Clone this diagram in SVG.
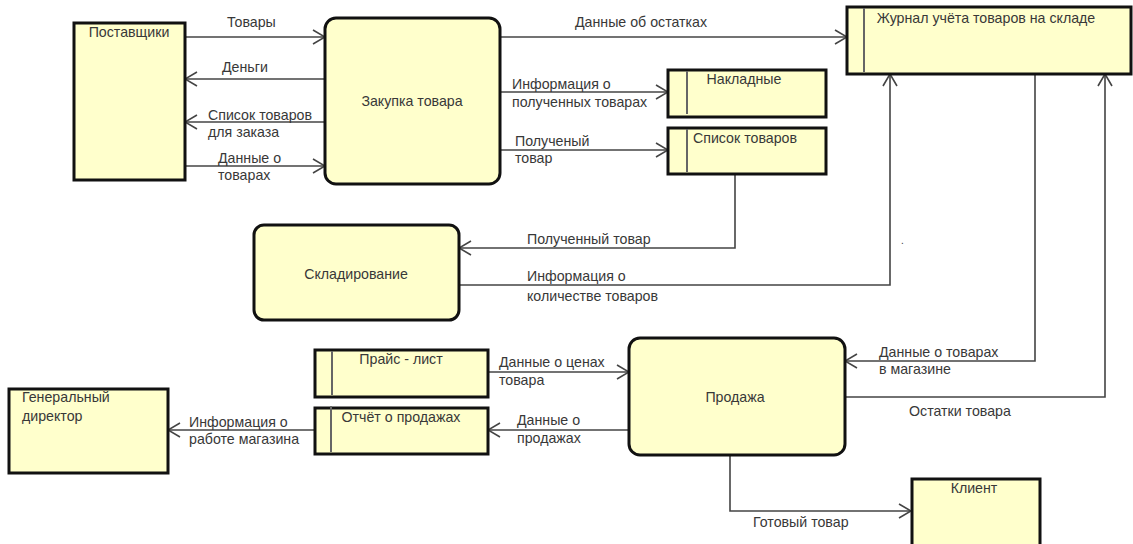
<svg xmlns="http://www.w3.org/2000/svg" width="1133" height="544" viewBox="0 0 1133 544">
<defs>
<style>
.box{fill:#ffffcc;stroke:#111;stroke-width:3}
.inner{stroke:#666;stroke-width:2;fill:none}
.ln{stroke:#444;stroke-width:1.6;fill:none}
.t{font-family:"Liberation Sans",Arial,sans-serif;font-size:14.2px;fill:#383838}
.c{text-anchor:middle}
</style>
<marker id="arr" viewBox="0 0 14 16" refX="13" refY="8" markerWidth="14" markerHeight="16" markerUnits="userSpaceOnUse" orient="auto">
<path d="M1,1 L13,8 L1,15" fill="none" stroke="#444" stroke-width="1.6"/>
</marker>
</defs>
<rect width="1133" height="544" fill="#fff"/>

<g id="connectors">
<line class="ln" x1="185" y1="37" x2="325" y2="37" marker-end="url(#arr)"/>
<line class="ln" x1="325" y1="79" x2="185" y2="79" marker-end="url(#arr)"/>
<line class="ln" x1="325" y1="122" x2="185" y2="122" marker-end="url(#arr)"/>
<line class="ln" x1="185" y1="166" x2="325" y2="166" marker-end="url(#arr)"/>
<line class="ln" x1="500" y1="37" x2="847" y2="37" marker-end="url(#arr)"/>
<line class="ln" x1="500" y1="92" x2="668" y2="92" marker-end="url(#arr)"/>
<line class="ln" x1="500" y1="150" x2="668" y2="150" marker-end="url(#arr)"/>
<polyline class="ln" points="735,174 735,248 459,248" marker-end="url(#arr)"/>
<polyline class="ln" points="459,285 890,285 890,74" marker-end="url(#arr)"/>
<polyline class="ln" points="1035,74 1035,361 845,361" marker-end="url(#arr)"/>
<polyline class="ln" points="845,397 1105,397 1105,74" marker-end="url(#arr)"/>
<line class="ln" x1="488" y1="372" x2="629" y2="372" marker-end="url(#arr)"/>
<line class="ln" x1="629" y1="430" x2="488" y2="430" marker-end="url(#arr)"/>
<line class="ln" x1="315" y1="430" x2="168" y2="430" marker-end="url(#arr)"/>
<polyline class="ln" points="730,455 730,511 911,511" marker-end="url(#arr)"/>

<text class="t" x="227" y="27">Товары</text>
<text class="t" x="222" y="72">Деньги</text>
<text class="t" x="208" y="120">Список товаров</text>
<text class="t" x="208" y="137">для заказа</text>
<text class="t" x="218" y="163">Данные о</text>
<text class="t" x="218" y="180">товарах</text>
<text class="t" x="575" y="27">Данные об остатках</text>
<text class="t" x="512" y="89">Информация о</text>
<text class="t" x="512" y="107">полученных товарах</text>
<text class="t" x="515" y="146">Полученый</text>
<text class="t" x="515" y="163">товар</text>
<text class="t" x="527" y="244">Полученный товар</text>
<text class="t" x="527" y="281">Информация о</text>
<text class="t" x="527" y="301">количестве товаров</text>
<text class="t" x="901" y="244" style="font-size:10px">.</text>
<text class="t" x="879" y="357">Данные о товарах</text>
<text class="t" x="879" y="374">в магазине</text>
<text class="t" x="909" y="416">Остатки товара</text>
<text class="t" x="499" y="367">Данные о ценах</text>
<text class="t" x="499" y="385">товара</text>
<text class="t" x="517" y="425">Данные о</text>
<text class="t" x="517" y="443">продажах</text>
<text class="t" x="189" y="427">Информация о</text>
<text class="t" x="189" y="444">работе магазина</text>
<text class="t" x="753" y="527">Готовый товар</text>
</g>

<g id="postavshiki">
<rect class="box" x="74" y="23" width="111" height="157"/>
<text class="t c" x="129" y="37">Поставщики</text>
</g>

<g id="zakupka">
<rect class="box" x="325" y="18" width="175" height="166" rx="11"/>
<text class="t c" x="412" y="106">Закупка товара</text>
</g>

<g id="zhurnal">
<rect class="box" x="847" y="7" width="284" height="67"/>
<line class="inner" x1="864" y1="8" x2="864" y2="72"/>
<text class="t c" x="986" y="23">Журнал учёта товаров на складе</text>
</g>

<g id="nakladnye">
<rect class="box" x="668" y="70" width="158" height="47"/>
<line class="inner" x1="687" y1="71" x2="687" y2="114"/>
<text class="t c" x="744" y="84">Накладные</text>
</g>

<g id="spisok">
<rect class="box" x="668" y="128" width="158" height="46"/>
<line class="inner" x1="687" y1="129" x2="687" y2="172"/>
<text class="t c" x="745" y="143">Список товаров</text>
</g>

<g id="skladirovanie">
<rect class="box" x="254" y="225" width="205" height="95" rx="10"/>
<text class="t c" x="356" y="279">Складирование</text>
</g>

<g id="prodazha">
<rect class="box" x="629" y="338" width="216" height="117" rx="11"/>
<text class="t c" x="735" y="402">Продажа</text>
</g>

<g id="prais">
<rect class="box" x="315" y="350" width="173" height="47"/>
<line class="inner" x1="332" y1="351" x2="332" y2="395"/>
<text class="t c" x="401" y="364">Прайс - лист</text>
</g>

<g id="otchet">
<rect class="box" x="315" y="408" width="173" height="46"/>
<line class="inner" x1="331" y1="406" x2="331" y2="452"/>
<text class="t c" x="401" y="422">Отчёт о продажах</text>
</g>

<g id="direktor">
<rect class="box" x="9" y="389" width="159" height="84"/>
<text class="t" x="22" y="402">Генеральный</text>
<text class="t" x="22" y="421">директор</text>
</g>

<g id="klient">
<rect class="box" x="912" y="479" width="128" height="70"/>
<text class="t c" x="974" y="493">Клиент</text>
</g>
</svg>
